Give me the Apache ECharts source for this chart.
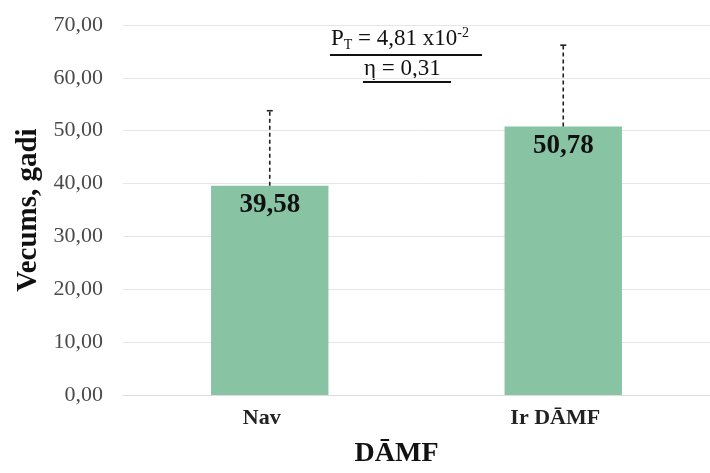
<!DOCTYPE html>
<html>
<head>
<meta charset="utf-8">
<script src="https://cdn.jsdelivr.net/npm/echarts@6/dist/echarts.min.js"></script>
<style>
  html, body { margin: 0; padding: 0; background: #fff; }
  #main { width: 710px; height: 473px; }
</style>
</head>
<body>
<div id="main"></div>
<script>
// data
var categories = ['Nav', 'Ir DĀMF'];
var means = [39.58, 50.78];
var sd = [14.2, 15.4];
var yTicks = [0, 10, 20, 30, 40, 50, 60, 70];

var serif = '"Liberation Serif", "DejaVu Serif", serif';

var myChart = echarts.init(document.getElementById('main'));

var errData = categories.map(function (c, i) {
    return [i, means[i], means[i] + sd[i]];
});

function comma(v) { return v.toFixed(2).replace('.', ','); }

var option = {
    animation: false,
    grid: { left: 123, right: -5, top: 25, bottom: 75 },
    xAxis: {
        type: 'category',
        data: categories,
        name: 'DĀMF',
        nameLocation: 'middle',
        nameGap: 45,
        nameTextStyle: { fontFamily: serif, fontWeight: 'bold', fontSize: 28, color: '#111', padding: [0, 40, 0, 0] },
        axisLine: { lineStyle: { color: '#dcdcdc' } },
        axisTick: { show: false },
        axisLabel: { fontFamily: serif, fontWeight: 'bold', fontSize: 22, color: '#222', margin: 12, padding: [0, 16, 0, 0] }
    },
    yAxis: {
        type: 'value',
        min: yTicks[0],
        max: yTicks[yTicks.length - 1],
        interval: 10,
        name: 'Vecums, gadi',
        nameLocation: 'middle',
        nameGap: 80,
        nameTextStyle: { fontFamily: serif, fontWeight: 'bold', fontSize: 29, color: '#111' },
        splitLine: { lineStyle: { color: '#e6e6e6' } },
        axisLabel: {
            fontFamily: serif, fontSize: 22, color: '#4a4a4a', margin: 20,
            formatter: comma
        }
    },
    series: [
        {
            type: 'bar',
            data: means,
            barWidth: '40%',
            itemStyle: { color: '#88c4a4' },
            label: {
                show: true,
                position: 'insideTop',
                distance: 6,
                fontFamily: serif,
                fontWeight: 'bold',
                fontSize: 27,
                color: '#111',
                formatter: function (p) { return comma(p.value); }
            },
            z: 2
        },
        {
            type: 'custom',
            data: errData,
            z: 3,
            renderItem: function (params, api) {
                var x = api.value(0);
                var lo = api.coord([x, api.value(1)]);
                var hi = api.coord([x, api.value(2)]);
                return {
                    type: 'group',
                    children: [
                        { type: 'line', shape: { x1: lo[0], y1: lo[1], x2: hi[0], y2: hi[1] }, style: { stroke: '#222', lineWidth: 1.6, lineDash: [4, 3] } },
                        { type: 'line', shape: { x1: hi[0] - 3, y1: hi[1], x2: hi[0] + 3, y2: hi[1] }, style: { stroke: '#222', lineWidth: 1.6 } }
                    ]
                };
            }
        }
    ],
    graphic: [
        {
            type: 'text',
            left: 331,
            top: 26,
            style: {
                text: '{a|P}{s|T}{a| = 4,81 x10}{p|-2}',
                rich: {
                    a: { fontFamily: serif, fontSize: 23, fill: '#111' },
                    s: { fontFamily: serif, fontSize: 14, fill: '#111', padding: [12, 0, 0, 0] },
                    p: { fontFamily: serif, fontSize: 14, fill: '#111', padding: [0, 0, 12, 0] }
                }
            }
        },
        { type: 'rect', shape: { x: 330, y: 54, width: 152, height: 2 }, style: { fill: '#111' } },
        {
            type: 'text',
            left: 364,
            top: 57,
            style: { text: 'η = 0,31', fontFamily: serif, fontSize: 23, fill: '#111' }
        },
        { type: 'rect', shape: { x: 363, y: 81, width: 88, height: 2 }, style: { fill: '#111' } }
    ]
};

myChart.setOption(option);
</script>
</body>
</html>
